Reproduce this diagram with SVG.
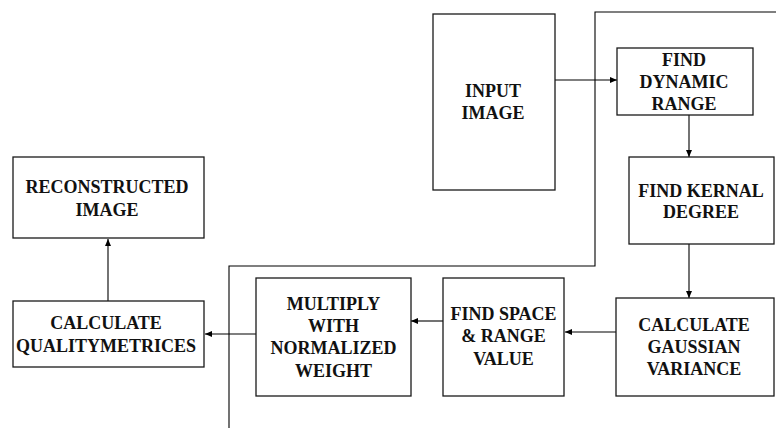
<svg xmlns="http://www.w3.org/2000/svg" width="776" height="428" viewBox="0 0 776 428">
<defs>
<marker id="ah" markerUnits="userSpaceOnUse" markerWidth="7" markerHeight="6" refX="7" refY="3" orient="auto">
<path d="M0,0 L7,3 L0,6 Z" fill="#000"/>
</marker>
<style>
.box{fill:#fff;stroke:#1a1a1a;stroke-width:1.3}
.t{font-family:'Liberation Serif','Times New Roman',Times,serif;font-weight:700;font-size:18px;fill:#111;text-anchor:middle}
.c{fill:none;stroke:#000;stroke-width:1.1}
</style>
</defs>
<rect width="776" height="428" fill="#fff"/>
<g id="connectors">
<polyline class="c" points="776,12 595,12 595,266 229,266 229,428" stroke="#222"/>
<line class="c" x1="555" y1="80" x2="617" y2="80" marker-end="url(#ah)"/>
<line class="c" x1="689" y1="115" x2="689" y2="157" marker-end="url(#ah)"/>
<line class="c" x1="689" y1="244" x2="689" y2="298" marker-end="url(#ah)"/>
<line class="c" x1="616" y1="332" x2="565" y2="332" marker-end="url(#ah)"/>
<line class="c" x1="443" y1="321" x2="411" y2="321" marker-end="url(#ah)"/>
<line class="c" x1="256" y1="334" x2="205" y2="334" marker-end="url(#ah)"/>
<line class="c" x1="108" y1="301" x2="108" y2="239" marker-end="url(#ah)"/>
</g>
<g id="input-image">
<rect class="box" x="433" y="14" width="122" height="176"/>
<text class="t" x="493" y="97">INPUT</text>
<text class="t" x="493" y="119">IMAGE</text>
</g>
<g id="find-dynamic-range">
<rect class="box" x="617" y="48" width="136" height="67"/>
<text class="t" x="684" y="66">FIND</text>
<text class="t" x="684" y="88">DYNAMIC</text>
<text class="t" x="684" y="110">RANGE</text>
</g>
<g id="find-kernal-degree">
<rect class="box" x="629" y="157" width="145" height="87"/>
<text class="t" x="701" y="197">FIND KERNAL</text>
<text class="t" x="701" y="218">DEGREE</text>
</g>
<g id="calculate-gaussian-variance">
<rect class="box" x="616" y="298" width="158" height="98"/>
<text class="t" x="694" y="331">CALCULATE</text>
<text class="t" x="694" y="353">GAUSSIAN</text>
<text class="t" x="694" y="375">VARIANCE</text>
</g>
<g id="find-space-range-value">
<rect class="box" x="443" y="278" width="121" height="118"/>
<text class="t" x="503.5" y="320">FIND SPACE</text>
<text class="t" x="503.5" y="342">&amp; RANGE</text>
<text class="t" x="503.5" y="365">VALUE</text>
</g>
<g id="multiply-normalized-weight">
<rect class="box" x="256" y="278" width="155" height="118"/>
<text class="t" x="333.5" y="310">MULTIPLY</text>
<text class="t" x="333.5" y="332">WITH</text>
<text class="t" x="333.5" y="354">NORMALIZED</text>
<text class="t" x="333.5" y="377">WEIGHT</text>
</g>
<g id="calculate-quality-metrices">
<rect class="box" x="13" y="301" width="191" height="66"/>
<text class="t" x="106" y="329">CALCULATE</text>
<text class="t" x="106" y="352">QUALITYMETRICES</text>
</g>
<g id="reconstructed-image">
<rect class="box" x="13" y="157" width="191" height="81"/>
<text class="t" x="107" y="193">RECONSTRUCTED</text>
<text class="t" x="107" y="216">IMAGE</text>
</g>
</svg>
